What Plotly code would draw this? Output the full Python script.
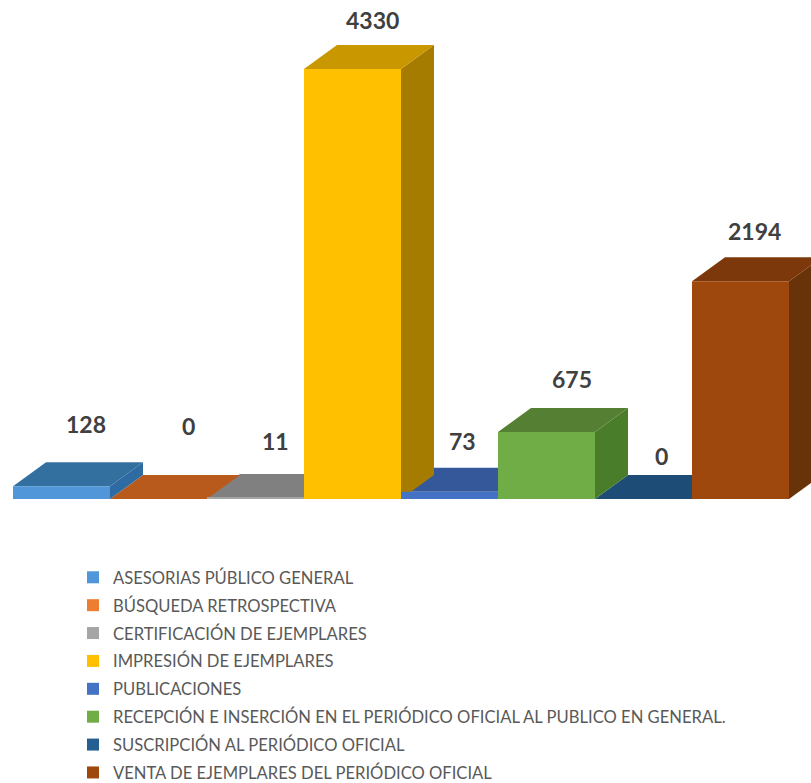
import plotly.graph_objects as go

CATEGORIES = [
    "ASESORIAS PÚBLICO GENERAL",
    "BÚSQUEDA RETROSPECTIVA",
    "CERTIFICACIÓN DE EJEMPLARES",
    "IMPRESIÓN DE EJEMPLARES",
    "PUBLICACIONES",
    "RECEPCIÓN E INSERCIÓN EN EL PERIÓDICO OFICIAL AL PUBLICO EN GENERAL.",
    "SUSCRIPCIÓN AL PERIÓDICO OFICIAL",
    "VENTA DE EJEMPLARES DEL PERIÓDICO OFICIAL",
]
VALUES = [128, 0, 11, 4330, 73, 675, 0, 2194]

FRONT = ["#5196D8", "#ED7D31", "#A5A5A5", "#FFC000", "#4472C4", "#70AD47", "#255E91", "#9E480E"]
TOP = ["#34709F", "#B85A1C", "#808080", "#C99700", "#35589A", "#558033", "#1D4C77", "#7C380B"]
SIDE = ["#2F6BA3", "#A0521A", "#777777", "#A67C00", "#2F4F8F", "#4A7D2A", "#1A4368", "#69330A"]
LABEL_DX = [24, 30, 20, 20, 13, 25, 18, 14]
LABEL_DY = [62, 73, 57, 49, 51, 53, 43, 50]

PX_PER_UNIT = 0.0993
BAR_PX = 97.0
W, H = 811, 783
LEFT, BASE = 13, 499
DX = 33 / BAR_PX
DY = 24 / PX_PER_UNIT

fig = go.Figure()

# tops and sides, painted right to left so each bar covers its neighbour's depth
for i in reversed(range(len(VALUES))):
    v = VALUES[i]
    l, r = i - 0.5, i + 0.5
    fig.add_trace(go.Scatter(
        x=[r, r + DX, r + DX, r, r], y=[0, DY, v + DY, v, 0],
        mode="lines", fill="toself", fillcolor=SIDE[i], line=dict(width=0),
        showlegend=False, hoverinfo="skip", zorder=0))
    fig.add_trace(go.Scatter(
        x=[l, r, r + DX, l + DX, l], y=[v, v, v + DY, v + DY, v],
        mode="lines", fill="toself", fillcolor=TOP[i], line=dict(width=0),
        showlegend=False, hoverinfo="skip", zorder=0))

# front faces and legend
for i, (name, v) in enumerate(zip(CATEGORIES, VALUES)):
    fig.add_trace(go.Bar(
        x=[i], y=[v], width=1, name=name, legendgroup=name,
        marker=dict(color=FRONT[i], line=dict(width=0)),
        zorder=1))

for i, v in enumerate(VALUES):
    fig.add_annotation(
        x=i, y=v, xref="x", yref="y", text=f"<b>{v}</b>", showarrow=False,
        xshift=LABEL_DX[i], yshift=LABEL_DY[i], yanchor="middle", xanchor="center",
        font=dict(family="Lato", size=23, color="#404040"))

fig.update_layout(
    width=W, height=H,
    margin=dict(l=0, r=0, t=0, b=0, autoexpand=False),
    paper_bgcolor="white", plot_bgcolor="white",
    barmode="overlay",
    xaxis=dict(visible=False, range=[-0.5 - LEFT / BAR_PX, -0.5 + (W - LEFT) / BAR_PX], fixedrange=True),
    yaxis=dict(visible=False, range=[(BASE - H) / PX_PER_UNIT, BASE / PX_PER_UNIT], fixedrange=True),
    legend=dict(x=73 / W, y=1 - 560 / H, xanchor="left", yanchor="top", traceorder="grouped",
                tracegroupgap=3.3, bgcolor="rgba(0,0,0,0)",
                font=dict(family="Lato", size=16.6, color="#595959")),
    showlegend=True,
)
fig.write_html("out.html", config={"displayModeBar": False},
               post_script="document.body.style.margin='0';document.body.style.overflow='hidden';")
